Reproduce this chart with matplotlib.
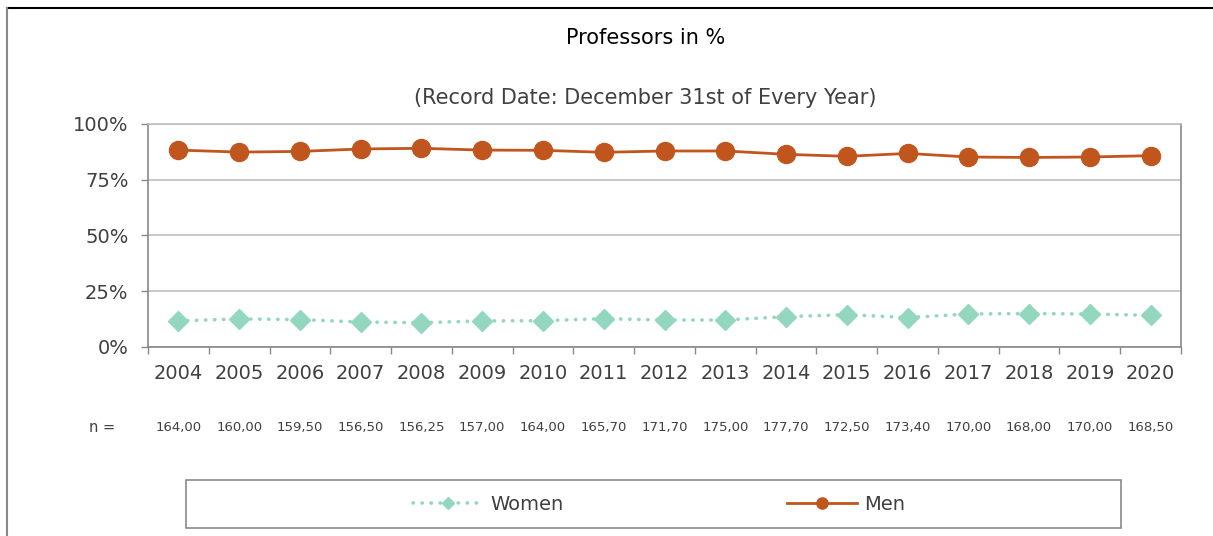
import matplotlib
matplotlib.use("Agg")
import matplotlib.pyplot as plt
from matplotlib.lines import Line2D
from matplotlib.patches import Rectangle
from matplotlib.ticker import FixedLocator, PercentFormatter

# data
years = ["2004", "2005", "2006", "2007", "2008", "2009", "2010", "2011", "2012",
         "2013", "2014", "2015", "2016", "2017", "2018", "2019", "2020"]
women = [11.7, 12.6, 12.3, 11.2, 10.9, 11.7, 11.8, 12.7, 12.1,
         12.1, 13.6, 14.5, 13.2, 14.8, 15.0, 14.8, 14.2]
men = [88.3, 87.4, 87.7, 88.8, 89.1, 88.3, 88.2, 87.3, 87.9,
       87.9, 86.4, 85.5, 86.8, 85.2, 85.0, 85.2, 85.8]
n_values = ["164,00", "160,00", "159,50", "156,50", "156,25", "157,00", "164,00",
            "165,70", "171,70", "175,00", "177,70", "172,50", "173,40", "170,00",
            "168,00", "170,00", "168,50"]

women_color = "#93D7BE"
men_color = "#C0561D"
grid_color = "#BFBFBF"
axis_color = "#898989"
text_color = "#404040"

plt.rcParams["font.family"] = ["DejaVu Sans"]

fig = plt.figure(figsize=(12.13, 5.36), dpi=100)
W, H = 1213, 536
ax = fig.add_axes([148 / W, 1 - 347 / H, (1181 - 148) / W, (347 - 124) / H])

x = list(range(len(years)))
ax.plot(x, women, color=women_color, linewidth=2.6, linestyle=(0, (0.1, 2.4)),
        dash_capstyle="round", marker="D", markersize=10.5, label="Women")
ax.plot(x, men, color=men_color, linewidth=2.0, marker="o", markersize=13,
        label="Men")

ax.set_xlim(-0.5, len(years) - 0.5)
ax.set_ylim(0, 100)
ax.set_yticks([0, 25, 50, 75, 100])
ax.yaxis.set_major_formatter(PercentFormatter(decimals=0))
ax.grid(axis="y", color=grid_color, linewidth=1.2)
ax.set_axisbelow(True)

ax.set_xticks(x)
ax.set_xticklabels(years)
ax.xaxis.set_minor_locator(FixedLocator([i - 0.5 for i in range(len(years) + 1)]))
ax.tick_params(axis="x", which="major", length=0, pad=12, labelsize=14,
               labelcolor=text_color)
ax.tick_params(axis="x", which="minor", length=5, color=axis_color, width=1)
ax.tick_params(axis="y", length=5, color=axis_color, width=1, pad=9,
               labelsize=14, labelcolor=text_color)

for side in ["left", "bottom", "right"]:
    ax.spines[side].set_color(axis_color)
    ax.spines[side].set_linewidth(1.2)
ax.spines["top"].set_color(grid_color)
ax.spines["top"].set_linewidth(1.2)

# n row under the years
for xi, nv in zip(x, n_values):
    ax.text(xi, -0.36, nv, transform=ax.get_xaxis_transform(), ha="center",
            va="center", fontsize=9.5, color=text_color)
fig.text(102 / W, 1 - 427 / H, "n =", ha="center", va="center", fontsize=10.5,
         color=text_color)

fig.text(0.532, 1 - 38 / H, "Professors in %", ha="center", va="center",
         fontsize=15, color="black")
fig.text(0.532, 1 - 98 / H, "(Record Date: December 31st of Every Year)",
         ha="center", va="center", fontsize=15, color=text_color)

# legend in its own box
fig.patches.append(Rectangle((186 / W, 1 - 528 / H), (1121 - 186) / W, 48 / H,
                             transform=fig.transFigure, fill=False,
                             edgecolor=axis_color, linewidth=1.2))
fig.legend(loc="center", bbox_to_anchor=(659 / W, 1 - 504 / H), ncol=2,
           frameon=False, fontsize=14, handlelength=3.6, handletextpad=0.35,
           columnspacing=11.5, labelcolor=text_color, markerscale=0.62)

# outer chart border
fig.add_artist(Line2D([7 / W, 1], [1 - 8 / H, 1 - 8 / H], color="black",
                      linewidth=1.5, transform=fig.transFigure))
fig.add_artist(Line2D([7 / W, 7 / W], [0, 1 - 8 / H], color=axis_color,
                      linewidth=1.5, transform=fig.transFigure))

fig.savefig("out.png", dpi=100)
